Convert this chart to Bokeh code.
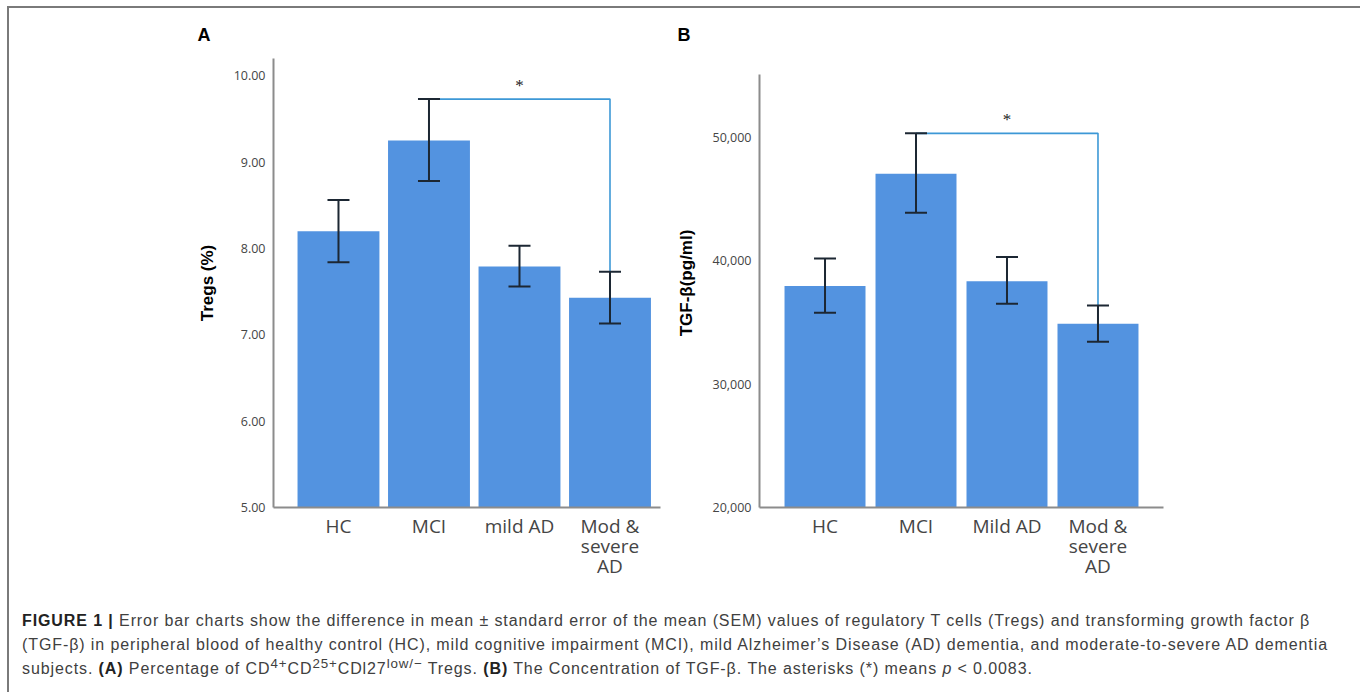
from bokeh.plotting import figure
from bokeh.models import (ColumnDataSource, Whisker, TeeHead, FixedTicker,
                          NumeralTickFormatter, Range1d, Div)
from bokeh.layouts import column, row
from bokeh.embed import file_html
from bokeh.resources import INLINE

# ---------------- data ----------------
categories_a = ["HC", "MCI", "mild AD", "Mod &\nsevere\nAD"]
tregs_mean = [8.20, 9.25, 7.79, 7.43]
tregs_upper = [8.56, 9.73, 8.03, 7.73]
tregs_lower = [7.84, 8.78, 7.56, 7.13]
tregs_ticks = [5, 6, 7, 8, 9, 10]

categories_b = ["HC", "MCI", "Mild AD", "Mod &\nsevere\nAD"]
tgfb_mean = [37950, 47060, 38350, 34900]
tgfb_upper = [40190, 50330, 40300, 36380]
tgfb_lower = [35790, 43900, 36520, 33440]
tgfb_ticks = [20000, 30000, 40000, 50000]

sig_pair = (1, 3)   # MCI vs Mod & severe AD

BAR = "#5393E0"
ERR = "#1c2733"
SIG = "#3d98d6"
AXIS = "#8c8c8c"
TICK = "#454545"


def panel(letter, cats, mean, upper, lower, ticks, ylabel, fmt,
          y0, y1, ybounds, x0, x1, bar_w, width, mb_left, mb_right,
          title_offset):
    n = len(cats)
    xs = list(range(n))
    src = ColumnDataSource(dict(x=xs, top=mean, upper=upper, lower=lower))
    p = figure(width=width, height=592, output_backend="svg", toolbar_location=None,
               x_range=Range1d(x0, x1), y_range=Range1d(y0, y1),
               min_border_left=mb_left, min_border_right=mb_right,
               min_border_top=50, min_border_bottom=93,
               title=letter)
    p.outline_line_color = None
    p.grid.visible = False
    p.background_fill_color = "white"
    p.border_fill_color = "white"

    p.title.text_font = "Liberation Sans"
    p.title.text_font_size = "18px"
    p.title.text_font_style = "bold"
    p.title.text_color = "black"
    p.title.align = "left"
    p.title.offset = title_offset
    p.title.standoff = 28

    p.vbar(x="x", top="top", bottom=y0, width=bar_w, source=src,
           fill_color=BAR, line_color=None)

    w = Whisker(source=src, base="x", upper="upper", lower="lower",
                line_color=ERR, line_width=2, level="overlay",
                upper_head=TeeHead(size=22, line_color=ERR, line_width=2),
                lower_head=TeeHead(size=22, line_color=ERR, line_width=2))
    p.add_layout(w)

    a, b = sig_pair
    p.line(x=[a, b, b], y=[upper[a], upper[a], upper[b]], line_color=SIG, line_width=1.6)
    p.text(x=[(a + b) / 2], y=[upper[a]], text=["*"], text_align="center",
           text_baseline="middle", y_offset=-14, text_font_size="17px",
           text_color="#222222", text_font="DejaVu Sans")

    for ax in (p.xaxis, p.yaxis):
        ax.axis_line_color = AXIS
        ax.axis_line_width = 2
        ax.major_tick_line_color = None
        ax.minor_tick_line_color = None
        ax.major_tick_out = 0
        ax.major_tick_in = 0

    p.xaxis.ticker = FixedTicker(ticks=xs)
    p.xaxis.major_label_overrides = {i: c for i, c in zip(xs, cats)}
    p.xaxis.major_label_text_font = "Open Sans"
    p.xaxis.major_label_text_font_size = "19px"
    p.xaxis.major_label_text_color = TICK
    p.xaxis.major_label_text_line_height = 0.78
    p.xaxis.major_label_standoff = 5

    p.yaxis.ticker = FixedTicker(ticks=ticks)
    p.yaxis.bounds = ybounds
    p.yaxis.formatter = NumeralTickFormatter(format=fmt)
    p.yaxis.major_label_text_font = "Open Sans"
    p.yaxis.major_label_text_font_size = "12.5px"
    p.yaxis.major_label_text_color = TICK
    p.yaxis.major_label_standoff = 8
    p.yaxis.axis_label = ylabel
    p.yaxis.axis_label_text_font = "Liberation Sans"
    p.yaxis.axis_label_text_font_size = "17px"
    p.yaxis.axis_label_text_font_style = "bold"
    p.yaxis.axis_label_text_color = "black"
    p.yaxis.axis_label_standoff = 14
    return p


pA = panel("A", categories_a, tregs_mean, tregs_upper, tregs_lower, tregs_ticks,
           "Tregs (%)", "0.00", 5, 10.2, (5, 10.2), -0.718, 3.558, 0.905,
           width=659, mb_left=264, mb_right=8, title_offset=-76)

pB = panel("B", categories_b, tgfb_mean, tgfb_upper, tgfb_lower, tgfb_ticks,
           "TGF-β(pg/ml)", "0,0", 20000, 56400, (20000, 55100), -0.72, 3.72, 0.89,
           width=685, mb_left=91, mb_right=190, title_offset=-82)

SUP = "<sup style='line-height:0'>"
caption = Div(
    text=("<b style='color:#222'>FIGURE 1 |</b> Error bar charts show the difference in mean ± "
          "standard error of the mean (SEM) values of regulatory T cells (Tregs) and transforming growth factor β<br>"
          "(TGF-β) in peripheral blood of healthy control (HC), mild cognitive impairment (MCI), mild "
          "Alzheimer’s Disease (AD) dementia, and moderate-to-severe AD dementia<br>"
          "subjects. <b style='color:#222'>(A)</b> Percentage of CD" + SUP + "4+</sup>CD" + SUP +
          "25+</sup>CDl27" + SUP + "low/−</sup> "
          "Tregs. <b style='color:#222'>(B)</b> The Concentration of TGF-β. The asterisks (*) means <i>p</i> &lt; 0.0083."),
    width=1344, height=82,
    styles={"font-family": "'Liberation Sans', Arial, sans-serif", "font-size": "16px",
            "letter-spacing": "0.9px",
            "color": "#404040", "line-height": "24px", "padding-left": "8px",
            "padding-top": "4px"})

layout = column(row(pA, pB), caption,
                styles={"border": "2px solid #7a7a7a", "border-bottom": "none",
                        "margin-left": "7px", "margin-top": "6px"})

open("out.html", "w").write(file_html(layout, INLINE))
